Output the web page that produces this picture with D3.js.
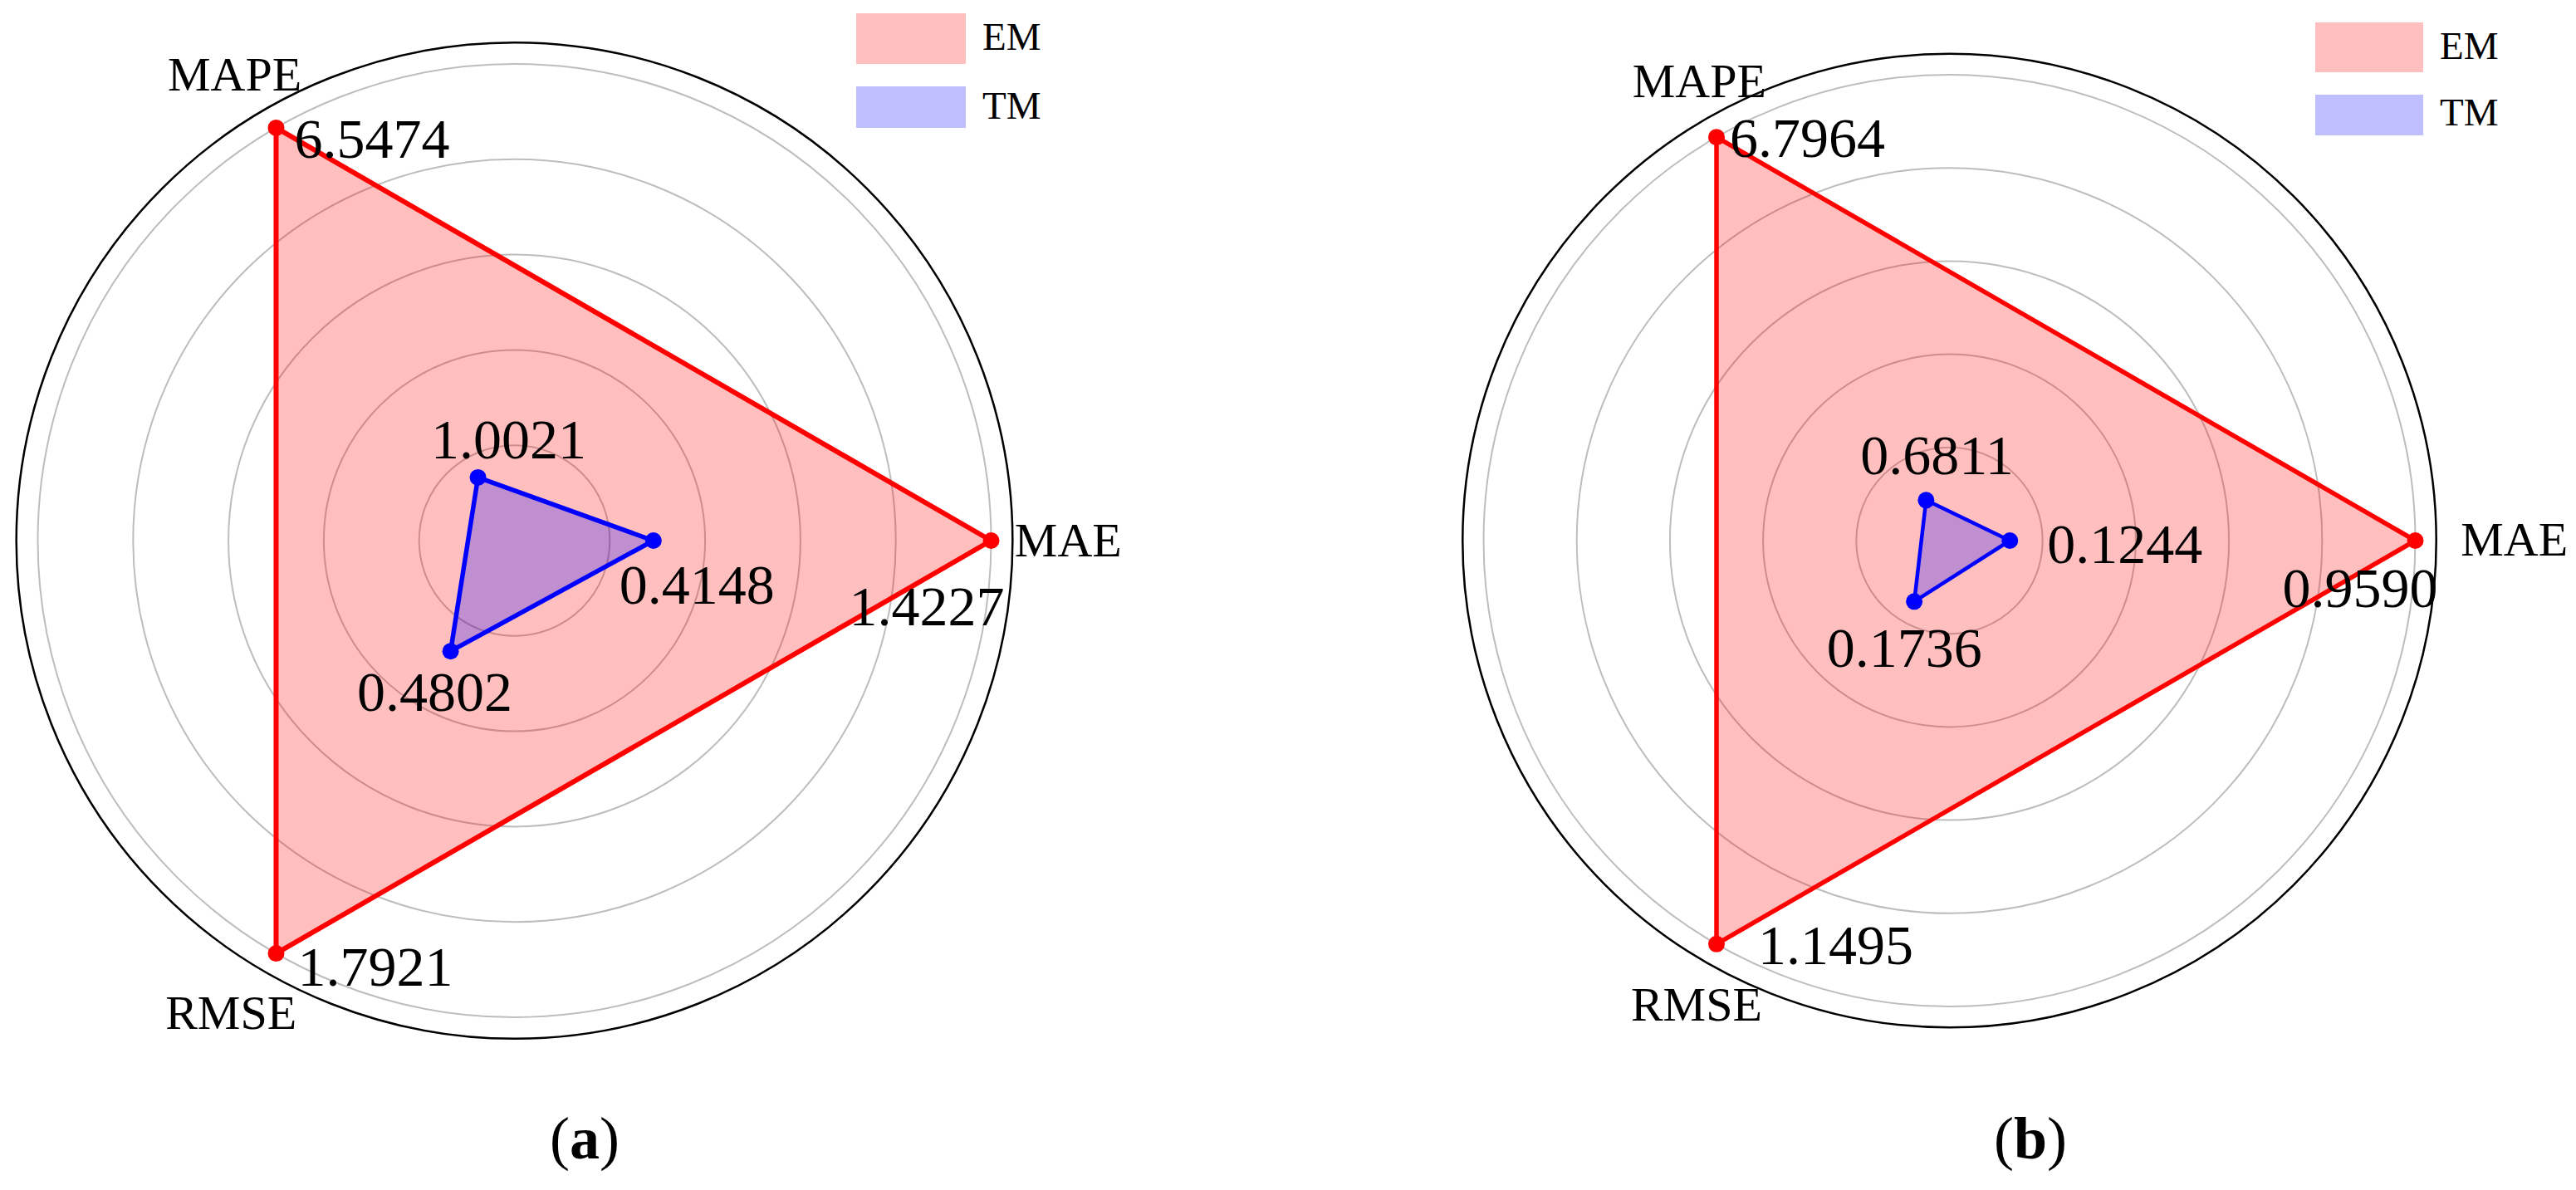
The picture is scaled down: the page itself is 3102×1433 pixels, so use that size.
<!DOCTYPE html>
<html>
<head>
<meta charset="utf-8">
<script src="https://cdn.jsdelivr.net/npm/d3@7"></script>
<style>
  body { margin: 0; background: #fff; }
  text { font-family: "Liberation Serif", "Times New Roman", serif; fill: #000; }
</style>
</head>
<body>
<div id="chart"></div>
<script>
// metrics, in the order they go round the chart (MAE on the right, then counter-clockwise)
var metrics = ["MAE", "MAPE", "RMSE"];
var series = ["EM", "TM"];

// panel (a)
var emA = [1.4227, 6.5474, 1.7921];
var tmA = [0.4148, 1.0021, 0.4802];
// panel (b)
var emB = [0.9590, 6.7964, 1.1495];
var tmB = [0.1244, 0.6811, 0.1736];

var gridTicks = [0.2, 0.4, 0.6, 0.8, 1.0];
var captions = ["a", "b"];

var colors = { EM: "#ff0000", TM: "#0000ff" };
var fills = { EM: "rgba(255,0,0,0.25)", TM: "rgba(0,0,255,0.25)" };

var W = 3102, H = 1433;
var svg = d3.select("#chart").append("svg")
  .attr("width", W)
  .attr("height", H);

// layout of each panel
var panels = [
  {
    em: emA, tm: tmA, caption: captions[0],
    cx: 619.5, cy: 651, r: 574,
    capX: 704,
    lineW: { EM: 6, TM: 5.5 },
    legend: { x: 1031, w: 132, boxes: [[16, 61], [104, 50]], tx: 1183, base: [60, 143] },
    axisLab: [["start", 2.5, 19], ["end", 43.5, -23], ["end", 37.5, 69]],
    valLab: {
      EM: [["end", 16, 102], ["start", 22, 36], ["start", 26, 39]],
      TM: [["start", -41, 76], ["middle", 37, -23], ["middle", -19, 72]]
    }
  },
  {
    em: emB, tm: tmB, caption: captions[1],
    cx: 2347.5, cy: 651, r: 561,
    capX: 2445,
    lineW: { EM: 5.5, TM: 4.5 },
    legend: { x: 2788, w: 130, boxes: [[27, 60], [114, 49]], tx: 2938, base: [71, 151] },
    axisLab: [["start", 29.5, 18], ["end", 72.5, -26.5], ["end", 67.5, 70.5]],
    valLab: {
      EM: [["end", 27, 80], ["start", 16, 24], ["start", 50, 24]],
      TM: [["start", 45, 27], ["middle", 13, -31], ["middle", -12, 79]]
    }
  }
];

panels.forEach(function (p) {
  var g = svg.append("g")
    .attr("transform", "translate(" + p.cx + "," + p.cy + ")");

  // normalised radius, 1 = largest value on that axis
  var r = d3.scaleLinear().domain([0, 1]).range([0, p.r]);
  var frameMax = 1.045;

  // angle measured clockwise from 12 o'clock, as d3.lineRadial wants
  var angle = d3.scaleLinear()
    .domain([0, metrics.length])
    .range([Math.PI / 2, Math.PI / 2 - 2 * Math.PI]);

  // one scale per axis, each from 0 to the largest value of that metric
  var axisScales = metrics.map(function (m, i) {
    return d3.scaleLinear().domain([0, Math.max(p.em[i], p.tm[i])]).range([0, 1]);
  });

  function xy(i, rad) {
    var a = angle(i);
    return [rad * Math.sin(a), -rad * Math.cos(a)];
  }

  // grid circles
  g.selectAll(".grid")
    .data(gridTicks)
    .enter()
    .append("circle")
    .attr("r", function (d) { return r(d); })
    .attr("fill", "none")
    .attr("stroke", "#bdbdbd")
    .attr("stroke-width", 2);

  // outer frame
  g.append("circle")
    .attr("r", r(frameMax))
    .attr("fill", "none")
    .attr("stroke", "#000")
    .attr("stroke-width", 2.5);

  // axis names
  metrics.forEach(function (m, i) {
    var pt = xy(i, r(frameMax));
    var lab = p.axisLab[i];
    g.append("text")
      .attr("x", pt[0] + lab[1])
      .attr("y", pt[1] + lab[2])
      .attr("text-anchor", lab[0])
      .style("font-size", "58px")
      .text(m);
  });

  var radial = d3.lineRadial()
    .angle(function (d, i) { return angle(i); })
    .radius(function (d, i) { return r(axisScales[i](d)); })
    .curve(d3.curveLinearClosed);

  series.forEach(function (s) {
    var vals = s === "EM" ? p.em : p.tm;
    var sg = g.append("g");

    sg.append("path")
      .datum(vals)
      .attr("d", radial)
      .attr("fill", fills[s])
      .attr("stroke", colors[s])
      .attr("stroke-width", p.lineW[s])
      .attr("stroke-linejoin", "round");

    sg.selectAll("circle")
      .data(vals)
      .enter()
      .append("circle")
      .attr("cx", function (d, i) { return xy(i, r(axisScales[i](d)))[0]; })
      .attr("cy", function (d, i) { return xy(i, r(axisScales[i](d)))[1]; })
      .attr("r", 10)
      .attr("fill", colors[s]);

    sg.selectAll("text")
      .data(vals)
      .enter()
      .append("text")
      .attr("x", function (d, i) { return xy(i, r(axisScales[i](d)))[0] + p.valLab[s][i][1]; })
      .attr("y", function (d, i) { return xy(i, r(axisScales[i](d)))[1] + p.valLab[s][i][2]; })
      .attr("text-anchor", function (d, i) { return p.valLab[s][i][0]; })
      .style("font-size", "68px")
      .text(function (d) { return d.toFixed(4); });
  });

  // legend
  series.forEach(function (s, k) {
    svg.append("rect")
      .attr("x", p.legend.x)
      .attr("y", p.legend.boxes[k][0])
      .attr("width", p.legend.w)
      .attr("height", p.legend.boxes[k][1])
      .attr("fill", fills[s]);
    svg.append("text")
      .attr("x", p.legend.tx)
      .attr("y", p.legend.base[k])
      .style("font-size", "47px")
      .text(s);
  });

  // caption
  var cap = svg.append("text")
    .attr("x", p.capX)
    .attr("y", 1395)
    .attr("text-anchor", "middle")
    .style("font-size", "72px");
  cap.append("tspan").text("(");
  cap.append("tspan").style("font-weight", "bold").text(p.caption);
  cap.append("tspan").text(")");
});
</script>
</body>
</html>
